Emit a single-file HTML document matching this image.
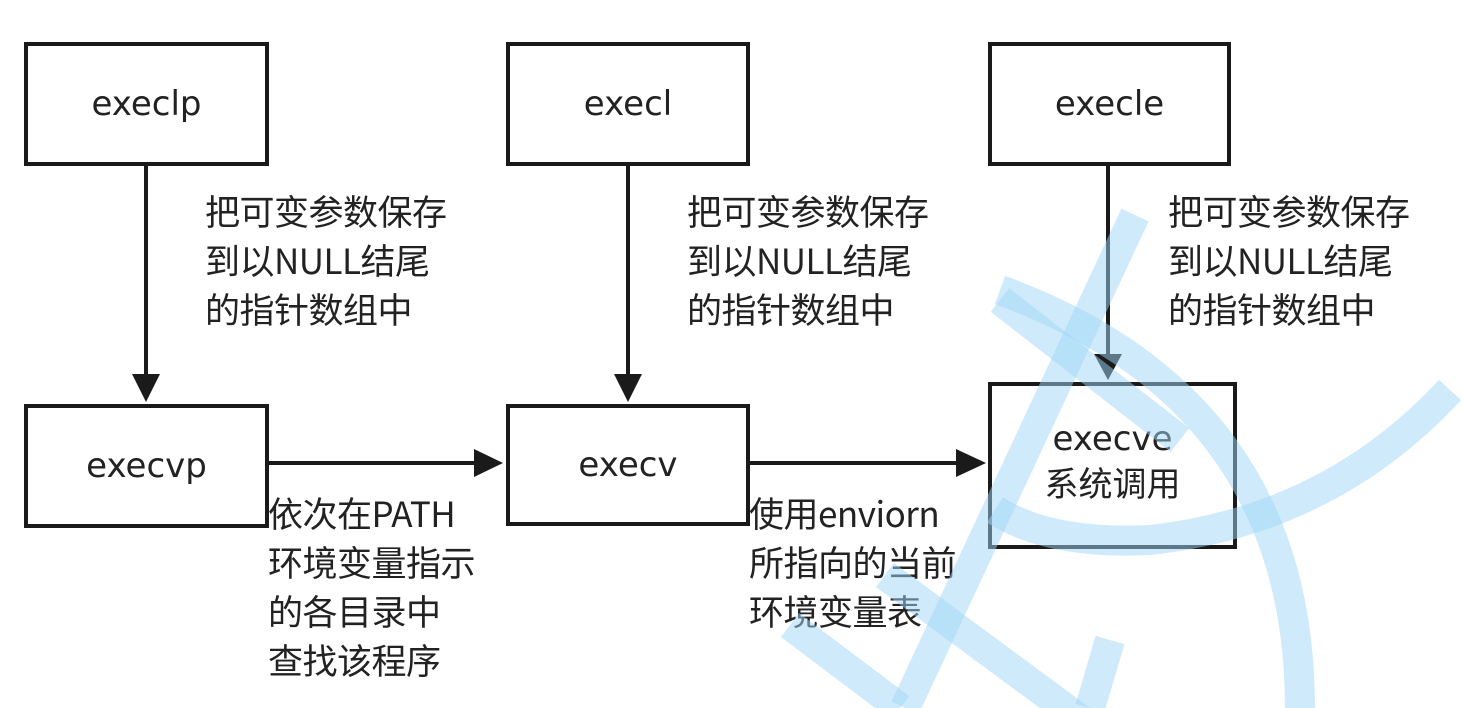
<!DOCTYPE html>
<html><head><meta charset="utf-8"><style>
html,body{margin:0;width:1464px;height:708px;overflow:hidden}
body{background:#fff;position:relative;font-family:"DejaVu Sans","Noto Sans CJK SC",sans-serif;color:#222}
.b{position:absolute;border:4px solid #1a1a1a;box-sizing:border-box;display:flex;align-items:center;justify-content:center;text-align:center;font-size:34px;line-height:46px;background:#fff}
.t{position:absolute;font-size:35px;line-height:49px;white-space:nowrap;font-family:"Noto Sans CJK SC",sans-serif;letter-spacing:-0.5px}
svg{position:absolute;left:0;top:0}
</style></head><body>
<div class="b" style="left:24px;top:42px;width:245px;height:124px">execlp</div>
<div class="b" style="left:506px;top:42px;width:244px;height:124px">execl</div>
<div class="b" style="left:988px;top:42px;width:243px;height:124px">execle</div>
<div class="b" style="left:24px;top:404px;width:245px;height:124px">execvp</div>
<div class="b" style="left:506px;top:404px;width:244px;height:122px">execv</div>
<div class="b" style="left:988px;top:382px;width:249px;height:167px;align-items:flex-start;padding-top:30px">execve<br>系统调用</div>
<div class="t" style="left:205px;top:186px">把可变参数保存<br>到以NULL结尾<br>的指针数组中</div>
<div class="t" style="left:687px;top:186px">把可变参数保存<br>到以NULL结尾<br>的指针数组中</div>
<div class="t" style="left:1168px;top:186px">把可变参数保存<br>到以NULL结尾<br>的指针数组中</div>
<div class="t" style="left:268px;top:488px">依次在PATH<br>环境变量指示<br>的各目录中<br>查找该程序</div>
<div class="t" style="left:749px;top:488px">使用enviorn<br>所指向的当前<br>环境变量表</div>
<svg width="1464" height="708">
<g stroke="#1a1a1a" stroke-width="4" fill="#1a1a1a">
<line x1="146" y1="166" x2="146" y2="376"/><polygon points="132,374 160,374 146,402" stroke="none"/>
<line x1="628" y1="166" x2="628" y2="376"/><polygon points="614,374 642,374 628,402" stroke="none"/>
<line x1="1108" y1="166" x2="1108" y2="356"/><polygon points="1094,354 1122,354 1108,380" stroke="none"/>
<line x1="269" y1="463" x2="476" y2="463"/><polygon points="474,449 474,477 503,463" stroke="none"/>
<line x1="750" y1="463" x2="958" y2="463"/><polygon points="956,449 956,477 986,463" stroke="none"/>
</g>
<g stroke="#9fd6f7" stroke-opacity="0.5" stroke-width="30" fill="none">
<line x1="1135" y1="215" x2="905" y2="708"/>
<line x1="1000" y1="300" x2="1180" y2="440"/>
<path d="M1000 290 Q1300 400 1300 708"/>
<path d="M1450 390 Q1330 520 1150 540 Q1050 545 995 510"/>
<path d="M885 575 L1230 830"/>
<line x1="1110" y1="640" x2="1090" y2="708"/>
<line x1="790" y1="625" x2="900" y2="708"/>
</g>
</svg>
</body></html>
